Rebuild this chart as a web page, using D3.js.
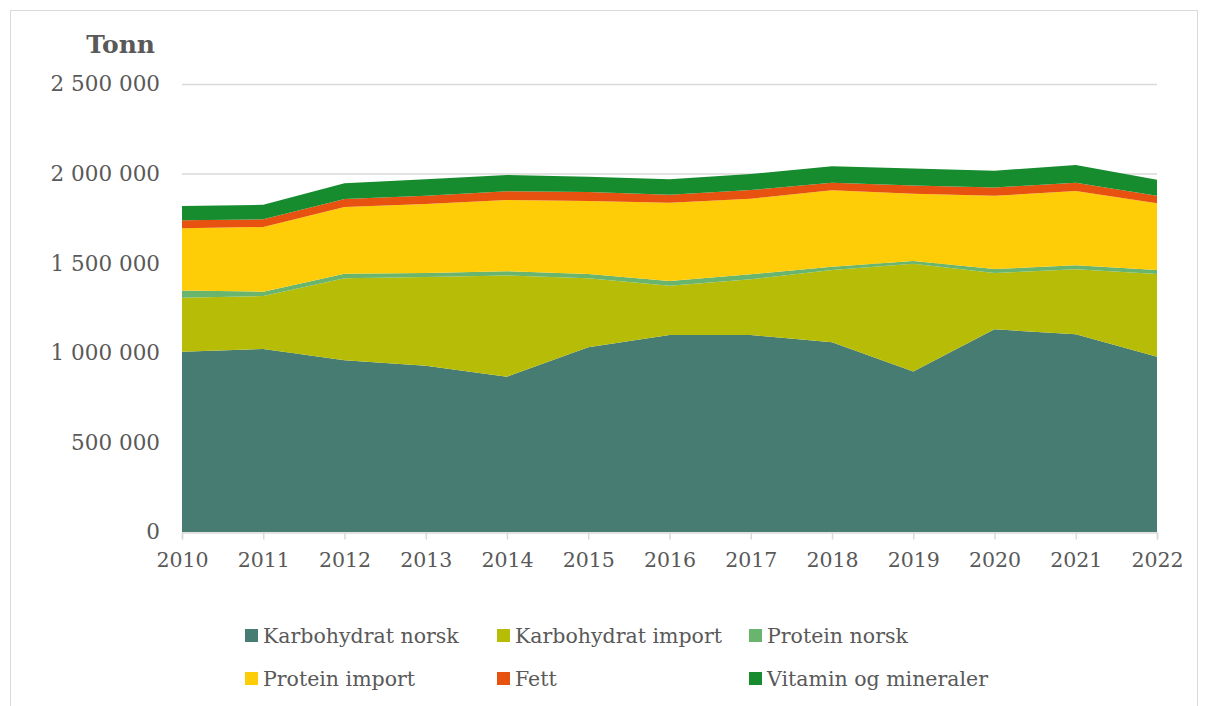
<!DOCTYPE html>
<html><head><meta charset="utf-8">
<script src="https://cdn.jsdelivr.net/npm/d3@7"></script>
<style>body{margin:0;background:#fff;}svg{display:block;}</style>
</head><body>
<svg id="chart" width="1208" height="706"></svg>
<script>
const years = [2010,2011,2012,2013,2014,2015,2016,2017,2018,2019,2020,2021,2022];
const seriesNames = ["Karbohydrat norsk","Karbohydrat import","Protein norsk","Protein import","Fett","Vitamin og mineraler"];
const colors = ["#467C72","#B7BD06","#69B56E","#FFCC08","#E85210","#168C2F"];
const karbohydratNorsk  = [1006000,1021000,958000,928000,867000,1031000,1099000,1099000,1059000,895000,1131000,1103000,978000];
const karbohydratImport = [301000,296000,458000,495000,565000,385000,275000,311000,403000,602000,314000,363000,462000];
const proteinNorsk      = [40000,24000,25000,22000,23000,24000,27000,28000,18000,15000,22000,22000,22000];
const proteinImport     = [348000,361000,373000,385000,398000,407000,437000,422000,427000,376000,409000,415000,372000];
const fett              = [44000,43000,44000,47000,48000,50000,44000,48000,42000,45000,47000,46000,43000];
const vitaminMineraler  = [80000,81000,88000,91000,91000,86000,86000,90000,92000,95000,93000,99000,89000];
const yTicks = [0,500000,1000000,1500000,2000000,2500000];

const seriesValues = [karbohydratNorsk,karbohydratImport,proteinNorsk,proteinImport,fett,vitaminMineraler];
const rows = years.map((y,i)=>{const r={year:y}; seriesNames.forEach((n,k)=>r[n]=seriesValues[k][i]); return r;});

const svg = d3.select("#chart");
const font = "'DejaVu Serif', Georgia, serif";
const txt = "#595959";

// outer border
svg.append("rect").attr("x",10.5).attr("y",10.5).attr("width",1187).attr("height",720)
  .attr("fill","none").attr("stroke","#d9d9d9").attr("stroke-width",1);

const x = d3.scaleLinear().domain([2010,2022]).range([182,1157]);
const y = d3.scaleLinear().domain([0,2500000]).range([532,84]);

// grid
svg.append("g").selectAll("line").data(yTicks.filter(d=>d>0)).join("line")
  .attr("x1",182).attr("x2",1157).attr("y1",d=>y(d)+0.5).attr("y2",d=>y(d)+0.5)
  .attr("stroke","#d9d9d9").attr("stroke-width",1.5);

const stack = d3.stack().keys(seriesNames)(rows);
const area = d3.area().x(d=>x(d.data.year)).y0(d=>y(d[0])).y1(d=>y(d[1]));
svg.append("g").selectAll("path").data(stack).join("path")
  .attr("d",area).attr("fill",(d,i)=>colors[i]);

// y axis labels
const yAxis = d3.axisLeft(y).tickValues(yTicks).tickSize(0).tickPadding(0)
  .tickFormat(d=>d3.format(",")(d).replace(/,/g," "));
const gy = svg.append("g").attr("transform","translate(160,0)").call(yAxis);
gy.select(".domain").remove();
gy.selectAll("text").attr("font-family",font).attr("font-size",21.5).attr("fill",txt).attr("dy","0.32em");

// x axis
const xAxis = d3.axisBottom(x).tickValues(years).tickFormat(d3.format("d")).tickSize(7).tickPadding(13);
const gx = svg.append("g").attr("transform","translate(0,532.5)").call(xAxis);
gx.select(".domain").attr("stroke","#d9d9d9").attr("stroke-width",1.5);
gx.selectAll(".tick line").attr("stroke","#d9d9d9").attr("stroke-width",1.5);
gx.selectAll("text").attr("font-family",font).attr("font-size",20.5).attr("fill",txt);

// title
svg.append("text").attr("x",155).attr("y",53).attr("text-anchor","end")
  .attr("font-family",font).attr("font-weight","bold").attr("font-size",25).attr("fill",txt).text("Tonn");

// legend
const legX = [245,497,749], legY = [636,679];
const leg = svg.append("g").selectAll("g").data(seriesNames).join("g")
  .attr("transform",(d,i)=>`translate(${legX[i%3]},${legY[Math.floor(i/3)]})`);
leg.append("rect").attr("x",0).attr("y",-7).attr("width",13).attr("height",13).attr("fill",(d,i)=>colors[i]);
leg.append("text").attr("x",18).attr("y",0).attr("dy","0.35em")
  .attr("font-family",font).attr("font-size",20.5).attr("fill",txt).text(d=>d);
</script>
</body></html>
